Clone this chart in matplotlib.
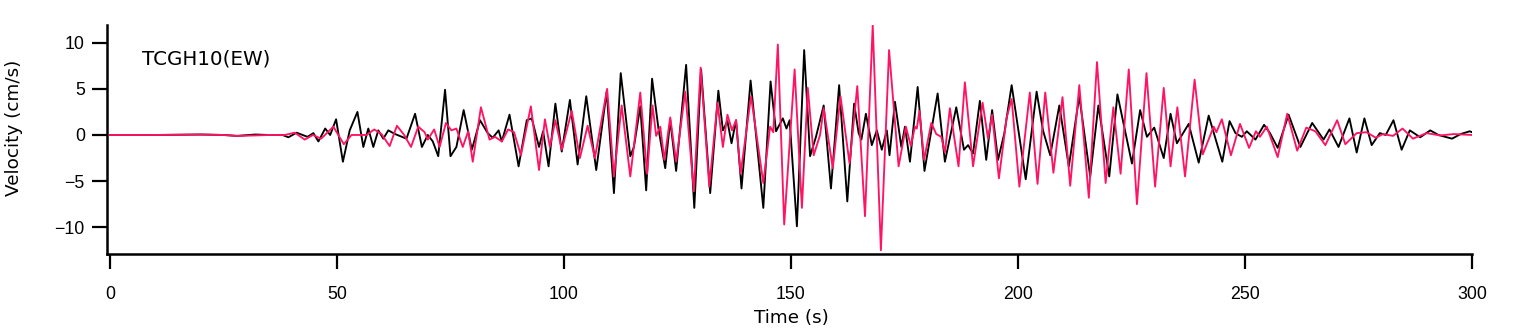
import matplotlib
matplotlib.use("Agg")
import matplotlib.pyplot as plt

# ---- data (extrema of each trace) ----
black_t = [0, 10, 20, 25, 28, 32, 35, 38, 39.3, 41.1, 43.5, 44.8, 45.9, 47.4, 48.5, 49.8, 51.3, 52.8,
           54.5, 55.8, 56.9, 58.0, 59.1, 60.2, 61.3, 62.8, 65.3, 67.2, 68.7, 70.0, 71.1, 72.3, 73.8,
           75.0, 76.3, 77.9, 79.7, 81.5, 83.2, 84.3, 85.6, 86.3, 88.0, 90.0, 91.8, 92.9, 94.5, 95.4,
           96.6, 98.1, 99.5, 101.3, 103.0, 104.9, 107.1, 109.4, 111.0, 112.5, 114.6, 115.4, 116.8,
           118.1, 119.4, 120.8, 122.3, 123.4, 124.7, 126.9, 128.7, 130.2, 132.2, 134.0, 135.0, 136.0,
           136.9, 137.9, 139.1, 141.1, 143.9, 145.5, 146.7, 148.2, 149.0, 149.7, 151.3, 152.9, 154.2,
           155.5, 157.2, 158.8, 160.6, 162.4, 163.9, 164.9, 165.5, 166.5, 167.8, 168.9, 170.0, 171.1,
           171.7, 172.9, 174.3, 175.1, 176.2, 177.9, 179.4, 182.3, 183.9, 186.4, 188.1, 189.0, 190.1,
           191.6, 193.0, 194.3, 195.6, 197.0, 198.6, 201.7, 204.1, 205.5, 207.1, 209.1, 211.2, 213.5,
           215.9, 217.7, 220.1, 221.9, 225.1, 226.9, 228.4, 230.0, 232.1, 233.6, 235.0, 237.6, 239.8,
           242.0, 245.0, 246.6, 247.9, 249.3, 250.4, 252.3, 254.2, 255.5, 257.2, 259.6, 262.2, 264.8,
           267.3, 268.6, 270.6, 273.0, 274.6, 276.3, 277.9, 279.7, 281.0, 282.7, 284.5, 286.3, 288.6,
           290.8, 292.6, 295.6, 297.5, 299.5, 300]
black_v = [0, 0, 0.05, 0, -0.1, 0.05, 0, 0, -0.25, 0.25, -0.2, 0.2, -0.7, 0.7, 0, 1.7, -2.9, 0.5,
           2.5, -1.3, 0.7, -1.3, 0.5, -0.4, 0.5, 0.1, -0.4, 2.3, -1.3, 0, -0.7, -2.3, 4.9,
           -2.3, -1.3, 2.7, -1.6, 1.6, 0.2, -0.3, 0.5, -0.7, 2.2, -3.4, 1.6, 1.8, -1.3, 0.4,
           -3.4, 3.4, -1.8, 3.8, -3.2, 4.2, -3.8, 4.7, -6.3, 6.7, -2.3, -1.3, 3.1,
           -6.0, 6.1, 0.7, -3.6, 1.6, -3.9, 7.6, -7.9, 7.1, -6.3, 4.8, 0.5, 1.5,
           -0.9, 1.6, -5.8, 5.9, -7.9, 5.8, 0.4, 1.8, 0.7, 1.6, -9.9, 9.2, -2.3,
           -0.2, 3.2, -5.8, 5.4, -7.2, 3.4, 0.2, -0.5, 2.3, -1.1, 0.5, -1.6, 0.5,
           -2.2, 3.6, -1.3, 0.9, -2.9, 5.2, -3.9, 4.5, -2.9, 3.0, -1.6, -1.1, -2.0,
           3.7, -2.7, 2.7, -2.7, 0.2, 5.4, -4.8, 4.7, 0.5, -2.2, 3.2, -3.4, 4.2,
           -4.5, 3.2, -4.5, 4.4, -3.1, 2.7, -0.2, 0.8, -2.5, 2.3, -0.9, 1.2, -3.0,
           2.1, -2.9, 1.5, 0.2, -0.2, 0.4, -0.5, 1.1, 0.2, -1.4, 2.2, -1.3, 1.3,
           -0.5, 0.6, -1.3, 1.8, -1.9, 1.8, -1.1, 0.2, 0, 1.6, -1.6, 0.5, -0.25,
           0.5, 0.0, -0.4, 0.1, 0.4, 0.3]

red_t = [0, 10, 20, 25, 28, 32, 35, 38.5, 40.7, 42.9, 44.7, 46.5, 49.2, 51.5, 53.2, 56.5, 58.2, 59.8,
         61.6, 63.2, 64.8, 66.3, 67.9, 69.3, 70.0, 71.4, 72.6, 74.0, 75.2, 76.3, 77.7, 78.9, 79.9,
         81.7, 83.6, 84.8, 86.3, 87.7, 89.0, 90.5, 92.7, 94.5, 95.8, 96.9, 98.1, 99.5, 101.7, 103.5,
         105.2, 106.8, 109.5, 111.0, 112.7, 114.6, 116.8, 118.3, 119.5, 120.3, 121.2, 122.1, 123.4,
         124.7, 126.7, 128.6, 130.1, 132.0, 133.8, 135.0, 136.0, 137.0, 137.9, 138.9, 141.2, 143.9,
         145.4, 146.1, 147.1, 148.5, 150.8, 152.4, 153.7, 155.0, 156.4, 157.2, 159.2, 160.9, 162.9,
         164.6, 166.3, 168.0, 169.8, 171.6, 173.7, 175.3, 176.4, 177.3, 177.7, 178.3, 179.3, 180.9,
         182.0, 183.1, 183.9, 185.0, 186.9, 188.3, 190.1, 192.2, 193.4, 194.3, 195.8, 197.5, 198.6,
         200.3, 202.6, 204.3, 206.0, 207.8, 209.8, 211.5, 213.5, 215.6, 217.4, 219.3, 221.0, 222.6,
         224.4, 226.2, 228.3, 230.2, 232.1, 233.6, 235.1, 236.8, 238.9, 240.7, 243.1, 243.7, 244.9,
         246.9, 248.9, 250.9, 252.4, 253.3, 254.8, 257.2, 259.3, 261.5, 263.5, 265.5, 267.7, 270.3,
         272.1, 274.6, 276.8, 278.8, 280.4, 282.6, 284.7, 287.0, 290.0, 293.0, 296.0, 300]
red_v = [0, 0, 0.05, 0, -0.1, -0.05, 0, 0, 0.25, -0.5, 0, -0.4, 0.9, -1.0, 0, 0, 0.6, 0.1,
         -1.2, 1.0, 0, -1.3, 0.9, 0.3, -0.5, 0.6, -1.3, 1.3, 0.5, 0.7, -1.3, 0.4, -2.9,
         3.0, -0.5, -0.2, -0.7, 0.6, 0.3, -2.2, 3.1, -3.8, 1.7, -1.3, 1.6, -1.6, 2.6, -2.5,
         1.0, -2.5, 5.0, -4.5, 3.2, -4.5, 4.6, -4.2, 3.2, -0.1, 0.9, -2.7, 1.9,
         -2.9, 4.7, -6.1, 7.3, -5.6, 3.5, -1.3, 2.2, 0.5, 1.6, -4.2, 4.2, -5.2,
         0.9, 0.3, 9.8, -9.7, 7.1, -7.9, 5.1, -2.2, 0.0, 2.9, -3.6, 4.2, -3.1,
         5.3, -8.8, 11.9, -12.5, 9.2, -3.4, 0.9, -1.2, 0.9, 0.7, 2.6, -2.7, 1.3,
         0.1, -0.2, -1.9, 2.9, -3.4, 5.7, -3.4, 3.5, -0.4, 2.2, -4.7, 1.9, 3.9,
         -5.6, 4.6, -5.3, 4.6, -4.1, 4.1, -5.5, 5.4, -6.8, 7.9, -5.2, 3.0, -4.2,
         7.1, -7.5, 6.7, -5.6, 5.1, -3.4, 3.0, -4.5, 6.0, -2.1, 0.9, 0.3, 1.7,
         -2.2, 1.2, -1.4, 0.4, -0.2, 0.9, -2.4, 2.3, -1.7, 0.8, 0.4, -1.1, 1.6,
         -1.0, 0.2, 0.3, -0.3, 0.1, -0.1, 0.7, -0.4, 0.2, -0.05, 0.1, 0]

x_ticks = [0, 50, 100, 150, 200, 250, 300]
y_ticks = [-10, -5, 0, 5, 10]
station = "TCGH10(EW)"

W, H = 1521, 333
fig = plt.figure(figsize=(W / 100, H / 100), dpi=100)
ax = fig.add_axes([107 / W, 1 - 254 / H, (1472 - 107) / W, (254 - 25) / H])

ax.plot(black_t, black_v, color="black", lw=1.35, solid_joinstyle="round")
ax.plot(red_t, red_v, color="#ff1464", lw=1.35, solid_joinstyle="round")

ax.set_xlim(-0.66, 300)
ax.set_ylim(-12.9, 11.92)
ax.set_xticks(x_ticks)
ax.set_yticks(y_ticks)
ax.set_xticklabels([str(v) for v in x_ticks])
ax.set_yticklabels([("\u2212" + str(-v)) if v < 0 else str(v) for v in y_ticks])

for s in ("top", "right"):
    ax.spines[s].set_visible(False)
for s in ("left", "bottom"):
    ax.spines[s].set_linewidth(1.8)
    ax.spines[s].set_capstyle("projecting")

ax.tick_params(axis="both", which="major", direction="out", length=11, width=1.6)
ax.tick_params(axis="y", pad=5)
ax.tick_params(axis="x", pad=12)
for lab in ax.get_xticklabels() + ax.get_yticklabels():
    lab.set_fontfamily("Liberation Sans")
    lab.set_fontsize(12.8)

fig.text(14 / W, 1 - 128 / H, "Velocity (cm/s)", rotation=90, ha="center", va="center",
         family="DejaVu Sans", fontsize=13.2)
fig.text(791 / W, 1 - 318 / H, "Time (s)", ha="center", va="center",
         family="DejaVu Sans", fontsize=13.2)
fig.text(142 / W, 1 - 59 / H, station, ha="left", va="center",
         family="DejaVu Sans", fontsize=14.3)

fig.savefig("out.png", dpi=100)
